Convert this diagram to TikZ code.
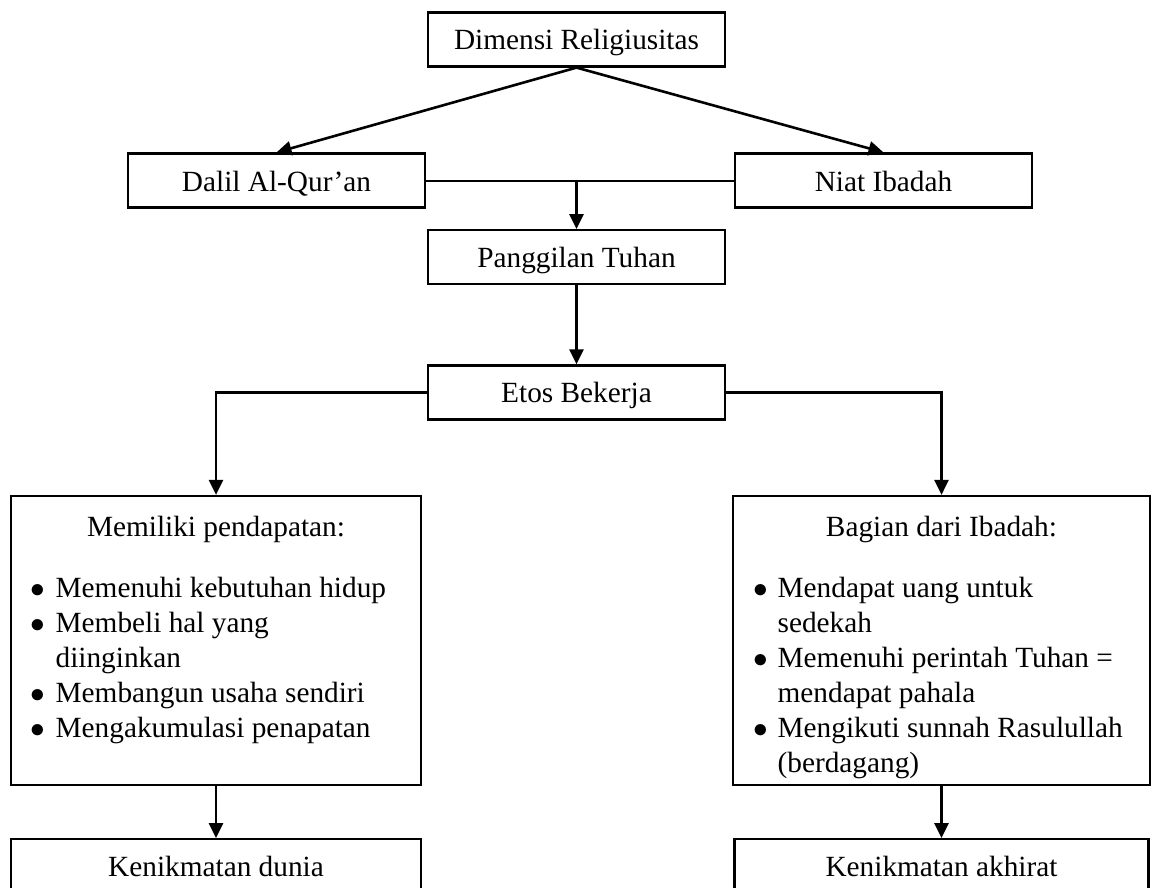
\RequirePackage{fix-cm}
\documentclass[tikz,border=0pt]{standalone}
\usepackage{fontspec}
\setmainfont{Liberation Serif}
\usepackage{tikz}
\usetikzlibrary{positioning, arrows.meta}
\tikzset{
  box/.style={rectangle, draw=black, line width=2.2pt, align=center, minimum width=297pt, minimum height=54pt, text height=21pt, text depth=0pt, font=\fontsize{29.3pt}{35pt}\selectfont},
  listbox/.style={rectangle, draw=black, line width=2.2pt, inner sep=0pt, font=\fontsize{29.3pt}{35pt}\selectfont},
  arrow/.style={line width=2.6pt, -{Triangle[length=15pt, width=14pt]}},
  link/.style={line width=2pt},
}
\newcommand{\boxlist}[3]{\parbox[c][289pt][t]{#1}{\vspace*{20pt}\centering #2\par\vspace{26pt}\raggedright\hspace*{20pt}\begin{tabular}[t]{@{}l@{\hspace{10pt}}l@{}}#3\end{tabular}}}

\begin{document}
\begin{tikzpicture}[x=1pt, y=1pt]
        \useasboundingbox (0,0) rectangle (1151,-888);

        % Top
        \node[box] (dimensi) at (576.5,-39.5) {Dimensi Religiusitas};

        % Second row
        \node[box] (dalil) at (276.5,-180.5) {Dalil Al-Qur’an};
        \node[box] (niat) at (883.5,-180.5) {Niat Ibadah};

        % Middle
        \node[box, below=161.5pt of dimensi] (panggilan) {Panggilan Tuhan};
        \node[box, below=79pt of panggilan] (etos) {Etos Bekerja};

        % Lists
        \node[listbox] (memiliki) at (216,-640.5) {\boxlist{410pt}{Memiliki pendapatan:}{%
            $\bullet$ & Memenuhi kebutuhan hidup\\
            $\bullet$ & Membeli hal yang\\
              & diinginkan\\
            $\bullet$ & Membangun usaha sendiri\\
            $\bullet$ & Mengakumulasi penapatan}};
        \node[listbox] (bagian) at (941.5,-640.5) {\boxlist{417pt}{Bagian dari Ibadah:}{%
            $\bullet$ & Mendapat uang untuk\\
              & sedekah\\
            $\bullet$ & Memenuhi perintah Tuhan =\\
              & mendapat pahala\\
            $\bullet$ & Mengikuti sunnah Rasulullah\\
              & (berdagang)}};

        % Results
        \node[box, minimum width=410pt, below=52pt of memiliki] (dunia) {Kenikmatan dunia};
        \node[box, minimum width=414pt, below=52pt of bagian] (akhirat) {Kenikmatan akhirat};

        % Connections
        \draw[arrow] (dimensi.south) -- (dalil.north);
        \draw[arrow] (dimensi.south) -- (niat.north);
        \draw[link] (dalil) -- (niat);
        \draw[arrow] (dalil.east -| panggilan) -- (panggilan);
        \draw[arrow] (panggilan) -- (etos);
        \draw[arrow] (etos.west) -| (memiliki.north);
        \draw[arrow] (etos.east) -| (bagian.north);
        \draw[arrow] (memiliki) -- (dunia);
        \draw[arrow] (bagian) -- (akhirat);
\end{tikzpicture}
\end{document}
